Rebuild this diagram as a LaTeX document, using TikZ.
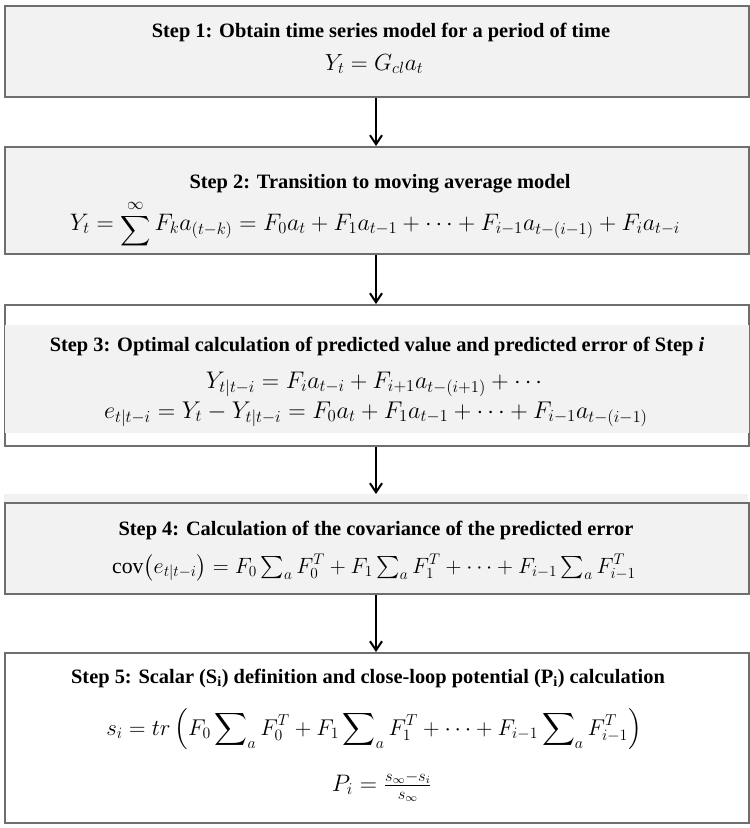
\documentclass[tikz,border=0pt]{standalone}
\usepackage{amsmath}
\usepackage{graphicx}
\usepackage{fontspec}
\setmainfont{Liberation Serif}
\usetikzlibrary{arrows.meta}
\definecolor{boxgray}{HTML}{F2F2F2}
\definecolor{edgegray}{HTML}{6E6E6E}
\begin{document}
\begin{tikzpicture}[x=1pt,y=1pt,
  stepbox/.style={draw=edgegray,line width=1.6pt,rectangle,inner sep=0pt,minimum width=744pt,anchor=north west},
  grayfill/.style={fill=boxgray},
  whitefill/.style={fill=white},
  titletext/.style={inner sep=0pt,anchor=base,font=\fontsize{20.4}{23}\selectfont\bfseries},
  eqtext/.style={inner sep=0pt,anchor=base,font=\fontsize{17}{20}\selectfont},
  flow/.style={line width=2.4pt,-{Straight Barb[length=9pt,width=12pt,line width=2pt]}}]
\useasboundingbox (0,0) rectangle (750,-828);
\fill[white] (0,0) rectangle (750,-828);
% boxes
\node[stepbox,grayfill,minimum height=91pt] (b1) at (4,-5) {};
\node[stepbox,grayfill,minimum height=107pt] (b2) at (4,-146) {};
\node[stepbox,whitefill,minimum height=141pt] (b3) at (4,-304) {};
\fill[boxgray] ([xshift=0.8pt]b3.west |- 0,-325) rectangle ([xshift=-0.8pt]b3.east |- 0,-433);
\fill[boxgray] (4,-494) rectangle (748,-502);
\node[stepbox,grayfill,minimum height=91pt] (b4) at (4,-502) {};
\node[stepbox,whitefill,minimum height=170pt] (b5) at (4,-652) {};
% texts
\node[titletext] (t1) at (381,-37) {Step 1: Obtain time series model for a period of time};
\node[eqtext] (e1) at (374,-70) {\scalebox{1.35}{$Y_t = G_{cl}a_t$}};
\node[titletext] (t2) at (380,-188) {Step 2: Transition to moving average model};
\node[eqtext] (e2) at (375,-230) {\scalebox{1.38}{$Y_t = \displaystyle\mathop{\raisebox{-4.3pt}{\scalebox{0.88}{$\displaystyle\sum$}}}\limits^{\infty} F_k a_{(t-k)} = F_0 a_t + F_1 a_{t-1} + \cdots + F_{i-1}a_{t-(i-1)} + F_i a_{t-i}$}};
\node[titletext] (t3) at (377,-351) {Step 3: Optimal calculation of predicted value and predicted error of Step \textit{i}};
\node[eqtext] (e3a) at (376,-388) {\scalebox{1.39}{$Y_{t|t-i} = F_i a_{t-i} + F_{i+1}a_{t-(i+1)} + \cdots$}};
\node[eqtext] (e3b) at (376,-418) {\scalebox{1.40}{$e_{t|t-i} = Y_t - Y_{t|t-i} = F_0 a_t + F_1 a_{t-1} + \cdots + F_{i-1}a_{t-(i-1)}$}};
\node[titletext] (t4) at (376,-535) {Step 4: Calculation of the covariance of the predicted error};
\node[eqtext] (e4) at (374,-573) {\scalebox{1.28}{$\mathrm{cov}\bigl(e_{t|t-i}\bigr) = F_0 \textstyle\sum_a F_0^T + F_1 \sum_a F_1^T + \cdots + F_{i-1}\sum_a F_{i-1}^T$}};
\node[titletext] (t5) at (368,-683) {Step 5: Scalar (S\textsubscript{i}) definition and close-loop potential (P\textsubscript{i}) calculation};
\node[eqtext] (e5a) at (374,-735) {\scalebox{1.32}{$s_i = tr\left(F_0 \displaystyle\sum\nolimits_a F_0^T + F_1 \sum\nolimits_a F_1^T + \cdots + F_{i-1}\sum\nolimits_a F_{i-1}^T\right)$}};
\node[eqtext] (e5b) at (382,-791) {\scalebox{1.38}{$P_i = \tfrac{s_\infty - s_i}{s_\infty}$}};
% arrows
\draw[flow] (b1.south -| 376,0) -- (b2.north -| 376,0);
\draw[flow] (b2.south -| 376,0) -- (b3.north -| 376,0);
\draw[flow] (b3.south -| 376,0) -- (376,-494);
\draw[flow] (b4.south -| 376,0) -- (b5.north -| 376,0);
\end{tikzpicture}
\end{document}
